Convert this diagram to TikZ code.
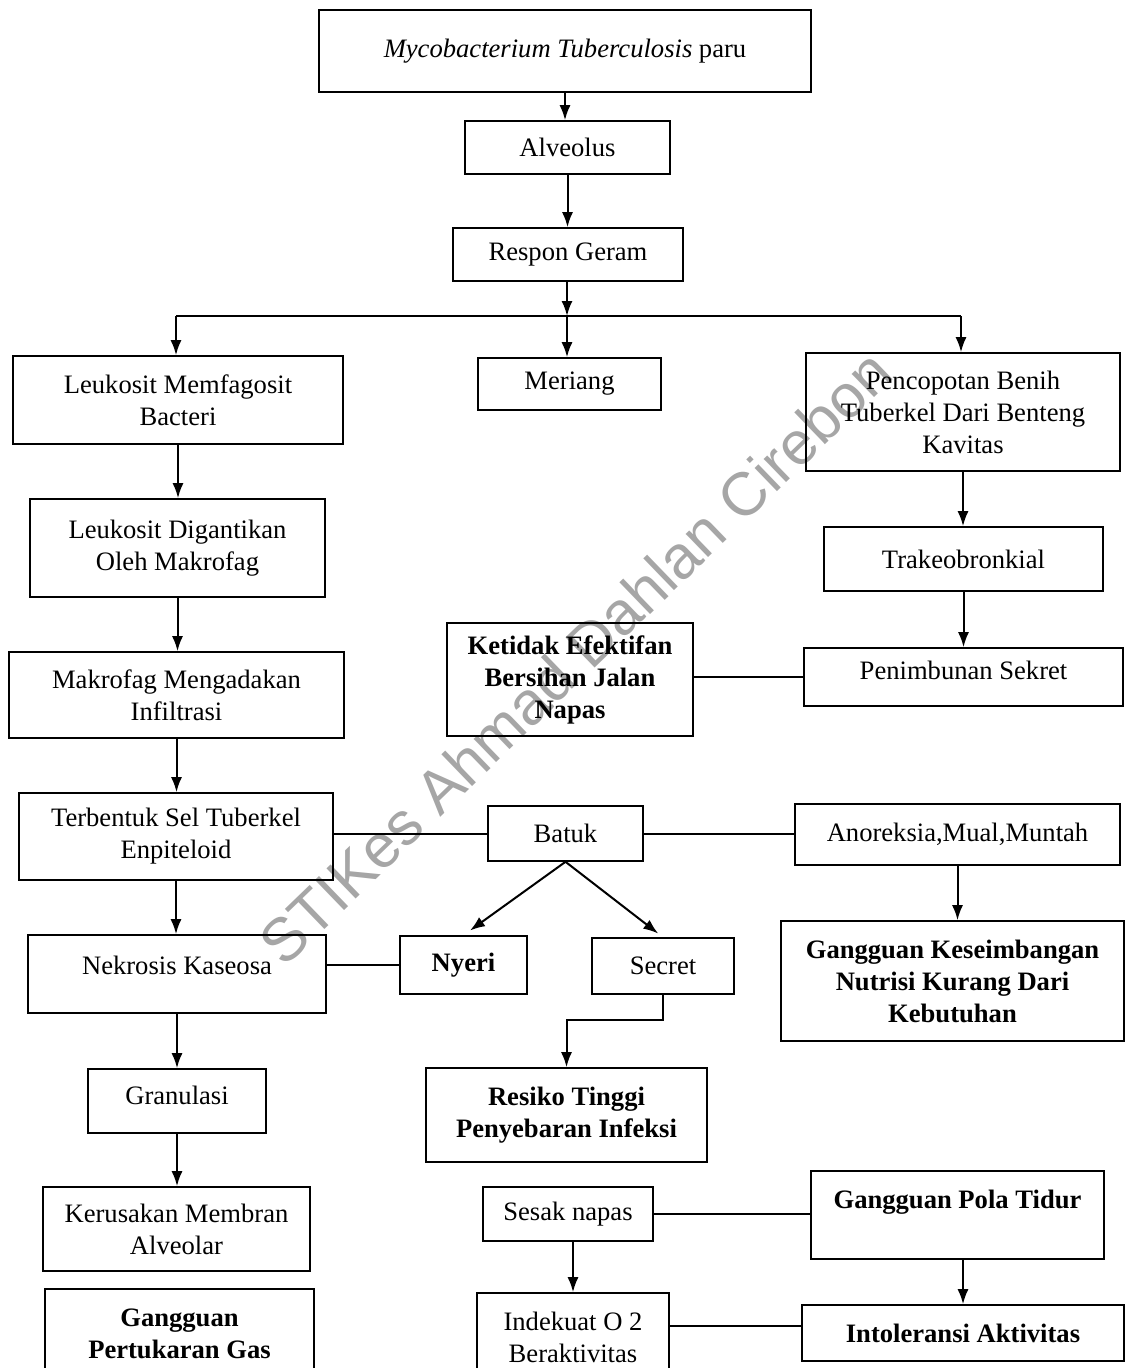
\documentclass[tikz,border=0pt]{standalone}
\usepackage{fontspec}
\setmainfont{Liberation Serif}
\newfontfamily\wmfont{Liberation Sans}
\usetikzlibrary{arrows.meta}

\begin{document}
\begin{tikzpicture}[
  x=1pt, y=-1pt,
  >={Latex[length=15pt,width=11pt]},
  box/.style={draw,line width=1.6pt,align=center,inner sep=0pt,
    font=\fontsize{26.6}{32}\selectfont},
  bbox/.style={box,font=\fontsize{26.6}{32}\selectfont\bfseries},
  conn/.style={line width=2pt}
]
\useasboundingbox (0,0) rectangle (1126,1368);
\clip (0,0) rectangle (1126,1368);

% watermark
\node[rotate=44,text=black!35,font=\wmfont\fontsize{61}{61}\selectfont] (wm) at (575,657) {STIKes Ahmad Dahlan Cirebon};

% top
\node[box,minimum width=492pt,minimum height=82pt] (myco) at (565,51) {\textit{Mycobacterium Tuberculosis} paru};
\node[box,minimum width=205pt,minimum height=53pt] (alv) at (567.5,147.5) {Alveolus};
\node[box,minimum width=230pt,minimum height=53pt] (resp) at (568,254.5) {Respon Geram};
\coordinate (jl) at (176,316);
\coordinate (jc) at (567,316);
\coordinate (jr) at (961,316);

% left column
\node[box,minimum width=330pt,minimum height=88pt] (leuk1) at (178,400) {Leukosit Memfagosit\\Bacteri};
\node[box,minimum width=295pt,minimum height=98pt] (leuk2) at (177.5,548) {Leukosit Digantikan\\Oleh Makrofag};
\node[box,minimum width=335pt,minimum height=86pt] (makro) at (176.5,695) {Makrofag Mengadakan\\Infiltrasi};
\node[box,minimum width=314pt,minimum height=87pt] (terb) at (176,836.5) {Terbentuk Sel Tuberkel\\Enpiteloid};
\node[box,minimum width=298pt,minimum height=78pt] (nekr) at (177,974) {Nekrosis Kaseosa\\[-14pt]\mbox{}};
\node[box,minimum width=178pt,minimum height=64pt] (gran) at (177,1101) {Granulasi\\[-20pt]\mbox{}};
\node[box,minimum width=267pt,minimum height=84pt] (keru) at (176.5,1229) {Kerusakan Membran\\Alveolar};
\node[bbox,minimum width=269pt,minimum height=90pt] (ggper) at (179.5,1334) {Gangguan\\Pertukaran Gas};

% middle column
\node[box,minimum width=183pt,minimum height=52pt] (meri) at (569.5,384) {Meriang};
\node[bbox,minimum width=246pt,minimum height=113pt] (keti) at (570,679.5) {Ketidak Efektifan\\Bersihan Jalan\\Napas};
\node[box,minimum width=155pt,minimum height=55pt] (batuk) at (565.5,833.5) {Batuk};
\node[bbox,minimum width=127pt,minimum height=58pt] (nyeri) at (463.5,965) {Nyeri};
\node[box,minimum width=142pt,minimum height=56pt] (secr) at (663,966) {Secret};
\node[bbox,minimum width=281pt,minimum height=94pt] (resi) at (566.5,1115) {Resiko Tinggi\\Penyebaran Infeksi};
\node[box,minimum width=170pt,minimum height=54pt] (sesak) at (568,1214) {Sesak napas};
\node[box,minimum width=192pt,minimum height=88pt] (indek) at (573,1337) {Indekuat O 2\\Beraktivitas};

% right column
\node[box,minimum width=314pt,minimum height=118pt] (penc) at (963,412) {Pencopotan Benih\\Tuberkel Dari Benteng\\Kavitas};
\node[box,minimum width=279pt,minimum height=64pt] (trak) at (963.5,559) {Trakeobronkial};
\node[box,minimum width=319pt,minimum height=58pt] (penim) at (963.5,677) {Penimbunan Sekret\\[-18pt]\mbox{}};
\node[box,minimum width=325pt,minimum height=61pt] (anor) at (957.5,834.5) {Anoreksia,Mual,Muntah};
\node[bbox,minimum width=343pt,minimum height=120pt] (ggkes) at (952.5,981) {Gangguan Keseimbangan\\Nutrisi Kurang Dari\\Kebutuhan};
\node[bbox,minimum width=293pt,minimum height=88pt] (ggpola) at (957.5,1215) {Gangguan Pola Tidur\\\mbox{}};
\node[bbox,minimum width=322pt,minimum height=56pt] (intol) at (963,1333) {Intoleransi Aktivitas};
\coordinate (ilink) at (802,1326);

\path[conn]
% stem
(myco.south) edge[->] (myco.south |- alv.north)
(alv.south) edge[->] (alv.south |- resp.north)
(jc |- resp.south) edge[->] (jc)
(jl) edge (jr)
(jl) edge[->] (jl |- leuk1.north)
(jc) edge[->] (jc |- meri.north)
(jr) edge[->] (jr |- penc.north)

% left chain
(leuk1.south) edge[->] (leuk1.south |- leuk2.north)
(leuk2.south) edge[->] (leuk2.south |- makro.north)
(makro.south) edge[->] (makro.south |- terb.north)
(terb.south) edge[->] (terb.south |- nekr.north)
(nekr.south) edge[->] (nekr.south |- gran.north)
(gran.south) edge[->] (gran.south |- keru.north)

% right chain
(penc.south) edge[->] (penc.south |- trak.north)
(trak.south) edge[->] (trak.south |- penim.north)
(anor.south) edge[->] (anor.south |- ggkes.north)
(ggpola.south -| intol.north) edge[->] (intol.north)
(sesak.south -| indek.north) edge[->] (indek.north)

% batuk
(batuk.south) edge[->,shorten >=8pt] (nyeri.north)
(batuk.south) edge[->,shorten >=6pt] (secr.north)

% plain links
(penim.west -| keti.east) edge (penim.west)
(batuk.west) edge (batuk.west -| terb.east)
(batuk.east) edge (batuk.east -| anor.west)
(nyeri.west) edge (nyeri.west -| nekr.east)
(sesak.east) edge (sesak.east -| ggpola.west)
(ilink -| indek.east) edge (ilink)
;
\draw[conn,->] (secr.south) -- ++(0,25) -| (resi.north);

\end{tikzpicture}
\end{document}
